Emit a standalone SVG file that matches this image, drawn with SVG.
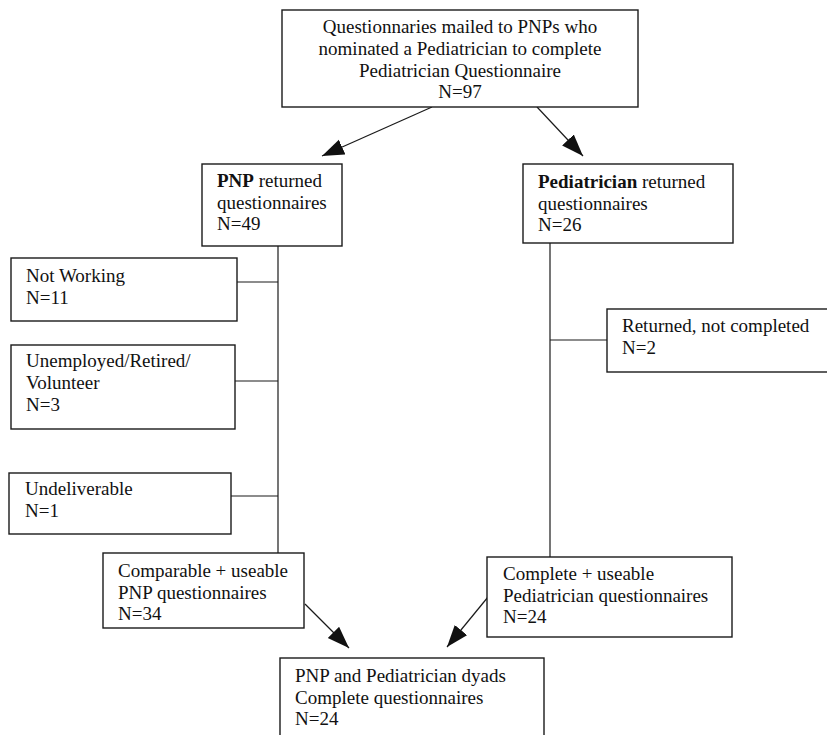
<svg xmlns="http://www.w3.org/2000/svg" width="827" height="735" viewBox="0 0 827 735">
<style>
.box{fill:#fff;stroke:#1a1a1a;stroke-width:1.4}
.t{font-family:"Liberation Serif","Times New Roman",serif;font-size:19px;fill:#111}
.c{text-anchor:middle}
.ln{stroke:#1a1a1a;stroke-width:1.2;fill:none}
</style>
<defs>
<marker id="ah" markerUnits="userSpaceOnUse" markerWidth="24" markerHeight="18" refX="22" refY="8" orient="auto">
<path d="M0,0 L22,8 L0,16 Z" fill="#111"/>
</marker>
</defs>
<rect width="827" height="735" fill="#fff"/>
<g id="connectors">
<line class="ln" x1="432" y1="107" x2="322" y2="156" marker-end="url(#ah)"/>
<line class="ln" x1="537" y1="107" x2="583" y2="156" marker-end="url(#ah)"/>
<line class="ln" x1="278" y1="246" x2="278" y2="553"/>
<line class="ln" x1="237" y1="282" x2="278" y2="282"/>
<line class="ln" x1="235" y1="381" x2="278" y2="381"/>
<line class="ln" x1="231" y1="496" x2="278" y2="496"/>
<line class="ln" x1="550" y1="243" x2="550" y2="557"/>
<line class="ln" x1="550" y1="340" x2="607" y2="340"/>
<line class="ln" x1="305" y1="604" x2="349" y2="648" marker-end="url(#ah)"/>
<line class="ln" x1="488" y1="597" x2="447" y2="647" marker-end="url(#ah)"/>
</g>
<g id="top">
<rect class="box" x="282" y="10" width="356" height="97"/>
<text class="t c" x="460" y="33">Questionnaries mailed to PNPs who</text>
<text class="t c" x="460" y="55">nominated a Pediatrician to complete</text>
<text class="t c" x="460" y="77">Pediatrician Questionnaire</text>
<text class="t c" x="460" y="98">N=97</text>
</g>
<g id="pnp">
<rect class="box" x="202" y="164" width="140" height="82"/>
<text class="t" x="217" y="187"><tspan font-weight="bold">PNP</tspan> returned</text>
<text class="t" x="217" y="209">questionnaires</text>
<text class="t" x="217" y="230">N=49</text>
</g>
<g id="ped">
<rect class="box" x="523" y="164" width="210" height="79"/>
<text class="t" x="538" y="188"><tspan font-weight="bold">Pediatrician</tspan> returned</text>
<text class="t" x="538" y="210">questionnaires</text>
<text class="t" x="538" y="231">N=26</text>
</g>
<g id="notworking">
<rect class="box" x="11" y="258" width="226" height="63"/>
<text class="t" x="26" y="282">Not Working</text>
<text class="t" x="26" y="304">N=11</text>
</g>
<g id="unemployed">
<rect class="box" x="11" y="345" width="224" height="84"/>
<text class="t" x="26" y="367">Unemployed/Retired/</text>
<text class="t" x="26" y="389">Volunteer</text>
<text class="t" x="26" y="411">N=3</text>
</g>
<g id="undeliverable">
<rect class="box" x="9" y="473" width="222" height="61"/>
<text class="t" x="25" y="495">Undeliverable</text>
<text class="t" x="25" y="517">N=1</text>
</g>
<g id="returned">
<rect class="box" x="607" y="309" width="224" height="63"/>
<text class="t" x="622" y="332">Returned, not completed</text>
<text class="t" x="622" y="354">N=2</text>
</g>
<g id="comparable">
<rect class="box" x="103" y="553" width="201" height="75"/>
<text class="t" x="118" y="577">Comparable + useable</text>
<text class="t" x="118" y="599">PNP questionnaires</text>
<text class="t" x="118" y="620">N=34</text>
</g>
<g id="complete">
<rect class="box" x="487" y="557" width="245" height="80"/>
<text class="t" x="503" y="580">Complete + useable</text>
<text class="t" x="503" y="602">Pediatrician questionnaires</text>
<text class="t" x="503" y="623">N=24</text>
</g>
<g id="dyads">
<rect class="box" x="280" y="658" width="264" height="90"/>
<text class="t" x="295" y="682">PNP and Pediatrician dyads</text>
<text class="t" x="295" y="704">Complete questionnaires</text>
<text class="t" x="295" y="725">N=24</text>
</g>
</svg>
